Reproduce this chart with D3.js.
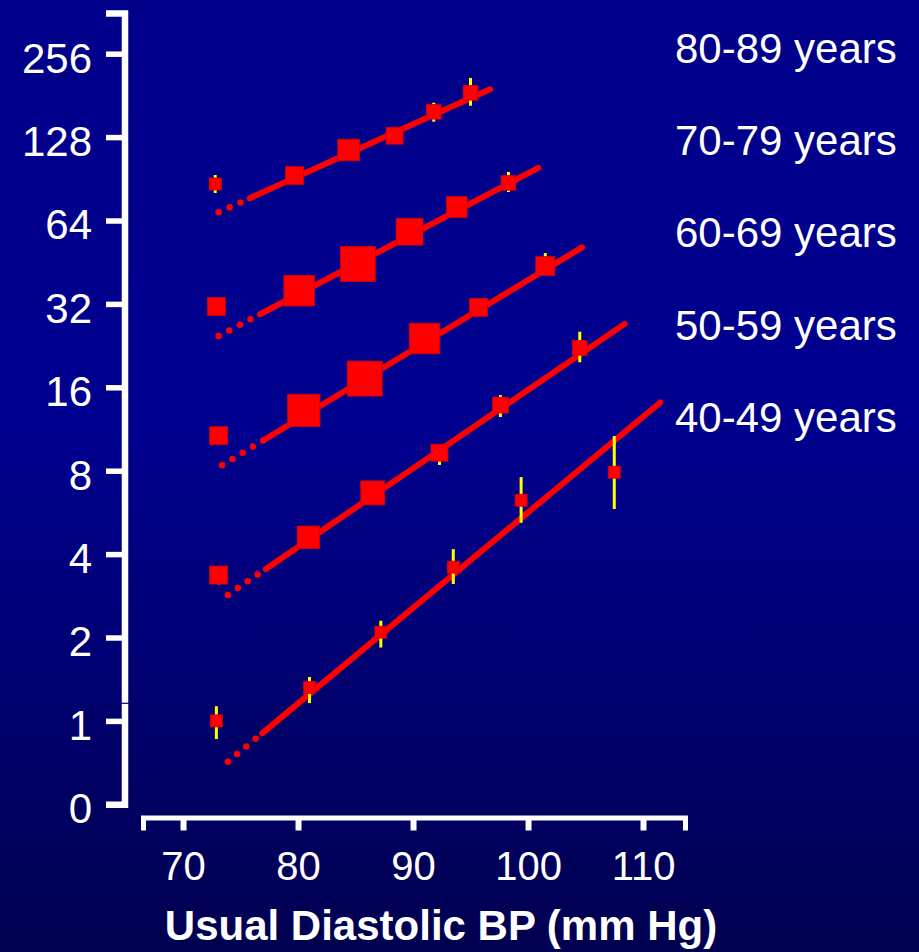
<!DOCTYPE html>
<html>
<head>
<meta charset="utf-8">
<script src="https://cdnjs.cloudflare.com/ajax/libs/d3/7.8.5/d3.min.js"></script>
<style>
  html, body { margin: 0; padding: 0; background: #000052; }
  svg { display: block; }
  text { font-family: Arial, "Liberation Sans", sans-serif; fill: #fff; }
</style>
</head>
<body>
<svg id="chart" width="919" height="952"></svg>
<script>
var ageGroups = ['80-89 years', '70-79 years', '60-69 years', '50-59 years', '40-49 years'];

// usual diastolic BP (mm Hg) of each category, one row per age group
var usualDBP = [
  [72.8, 79.7, 84.4, 88.4, 91.8, 95.0],
  [72.9, 80.1, 85.2, 89.7, 93.8, 98.3],
  [73.1, 80.5, 85.8, 91.0, 95.7, 101.5],
  [73.1, 80.9, 86.5, 92.3, 97.6, 104.5],
  [72.9, 81.0, 87.2, 93.5, 99.4, 107.5]
];
var strokeRisk = [
  [86.7, 92.9, 115, 129.5, 158, 185],
  [31.3, 35.7, 44.6, 58.3, 71.6, 87.5],
  [10.7, 13.2, 17.2, 24.0, 31.1, 43.8],
  [3.36, 4.60, 6.65, 9.29, 13.8, 22.2],
  [1.0, 1.32, 2.09, 3.59, 6.26, 7.90]
];
var ciLow = [
  [80.4, null, 109.4, null, 145.5, 166.1],
  [null, null, null, null, null, 81.1],
  [null, null, null, null, null, 41.5],
  [3.11, null, null, 8.39, 12.5, 19.7],
  [0.86, 1.16, 1.84, 3.12, 5.19, 5.82]
];
var ciHigh = [
  [93.4, null, 118.9, null, 170.3, 209.3],
  [null, null, null, null, null, 95.8],
  [null, null, null, null, null, 48.8],
  [3.62, null, null, 9.9, 15.0, 25.4],
  [1.13, 1.44, 2.30, 4.17, 7.59, 10.67]
];
// amount of information per category (drives square area)
var weights = [
  [4, 9, 13, 8, 6, 6],
  [9, 26, 34, 20, 12, 6],
  [9, 29, 34, 26, 9, 10],
  [9, 14, 16, 8, 7, 6],
  [4, 4, 4, 4, 4, 4]
];
// fitted trend: dotted from, solid from, to (mm Hg) and risk at both ends
var fitBP = [
  [73.1, 75.8, 96.7],
  [73.1, 76.7, 100.9],
  [73.4, 77.0, 104.7],
  [73.9, 77.2, 108.4],
  [73.9, 76.9, 111.5]
];
var fitRisk = [
  [68.5, 190.4],
  [24.5, 99.1],
  [8.37, 51.2],
  [2.85, 27.1],
  [0.712, 14.1]
];
var yTicks = [0.5, 1, 2, 4, 8, 16, 32, 64, 128, 256];
var xTicks = [70, 80, 90, 100, 110];

var svg = d3.select('#chart')
  , W = 919
  , H = 952
  , x = d3.scaleLinear().domain([66.52, 113.65]).range([143, 685])
  , y = d3.scaleLog().base(2).domain([0.5, 256]).range([804.3, 53.7])
  , yAxisScale = y.copy().domain([0.5, y.invert(13)]).range([804.3, 13])
  , size = d3.scaleSqrt().domain([0, 36]).range([0, 36])
  , defs = svg.append('defs')
  , grad
  , _riskAt
  , _styleAxis
;

grad = defs.append('linearGradient')
  .attr('id', 'bg').attr('x1', 0).attr('y1', 0).attr('x2', 0).attr('y2', 1);
grad.append('stop').attr('offset', 0).attr('stop-color', '#00008a');
grad.append('stop').attr('offset', 0.45).attr('stop-color', '#00008f');
grad.append('stop').attr('offset', 1).attr('stop-color', '#000050');

svg.append('rect').attr('width', W).attr('height', H).attr('fill', 'url(#bg)');

// log-linear interpolation along a fitted line
_riskAt = function (g, bp) {
  var b = fitBP[g], r = fitRisk[g]
    , t = (bp - b[0]) / (b[2] - b[0]);
  return Math.exp(Math.log(r[0]) + t * (Math.log(r[1]) - Math.log(r[0])));
};

_styleAxis = function (g, fontSize, width, tickWidth) {
  g.attr('font-size', fontSize).attr('font-family', 'Arial, "Liberation Sans", sans-serif');
  g.select('.domain').attr('stroke', '#fff').attr('stroke-width', width).attr('fill', 'none');
  g.selectAll('.tick line').attr('stroke', '#fff').attr('stroke-width', tickWidth);
  g.selectAll('.tick text').attr('fill', '#fff');
};

// axes
var yAxis = svg.append('g')
  .attr('transform', 'translate(124.5,0)')
  .call(d3.axisLeft(yAxisScale)
    .tickValues(yTicks)
    .tickFormat(function (d) { return d < 1 ? '0' : d; })
    .tickSizeInner(18.5).tickSizeOuter(18.5).tickPadding(14));
_styleAxis(yAxis, 42, 6.5, 5.5);
yAxis.selectAll('.tick text').attr('dy', '0.44em');

svg.append('line')
  .attr('x1', 120).attr('x2', 129).attr('y1', 703.3).attr('y2', 703.3)
  .attr('stroke', '#000070').attr('stroke-width', 1.2);

var xAxis = svg.append('g')
  .attr('transform', 'translate(0,817.5)')
  .call(d3.axisBottom(x).tickValues(xTicks).tickSizeInner(13).tickSizeOuter(13));
_styleAxis(xAxis, 40, 5, 6);
xAxis.selectAll('.tick text').attr('y', 62.5).attr('dy', 0);

svg.append('text')
  .attr('x', 441).attr('y', 940)
  .attr('text-anchor', 'middle')
  .attr('font-size', 42).attr('font-weight', 'bold')
  .text('Usual Diastolic BP (mm Hg)');

// one group per age band
ageGroups.forEach(function (label, g) {
  var grp = svg.append('g').attr('class', 'age-group')
    , b = fitBP[g]
    , pts = usualDBP[g].map(function (bp, i) {
        return { bp: bp, risk: strokeRisk[g][i], lo: ciLow[g][i], hi: ciHigh[g][i], w: weights[g][i] };
      });

  grp.append('line')
    .attr('x1', x(b[0])).attr('y1', y(_riskAt(g, b[0])))
    .attr('x2', x(b[1])).attr('y2', y(_riskAt(g, b[1])))
    .attr('stroke', '#ff0000').attr('stroke-width', 6.5)
    .attr('stroke-linecap', 'round').attr('stroke-dasharray', '0 12');

  grp.append('line')
    .attr('x1', x(b[1])).attr('y1', y(_riskAt(g, b[1])))
    .attr('x2', x(b[2])).attr('y2', y(_riskAt(g, b[2])))
    .attr('stroke', '#ff0000').attr('stroke-width', 6)
    .attr('stroke-linecap', 'round');

  grp.selectAll('line.ci')
    .data(pts.filter(function (d) { return d.lo != null; }))
    .enter().append('line')
      .attr('class', 'ci')
      .attr('x1', function (d) { return x(d.bp); })
      .attr('x2', function (d) { return x(d.bp); })
      .attr('y1', function (d) { return y(d.lo); })
      .attr('y2', function (d) { return y(d.hi); })
      .attr('stroke', '#ffff00').attr('stroke-width', 3);

  grp.selectAll('rect')
    .data(pts)
    .enter().append('rect')
      .attr('x', function (d) { return x(d.bp) - size(d.w) / 2; })
      .attr('y', function (d) { return y(d.risk) - size(d.w) / 2; })
      .attr('width', function (d) { return size(d.w); })
      .attr('height', function (d) { return size(d.w); })
      .attr('fill', '#ff0000')
      .attr('stroke', '#d0000a').attr('stroke-width', 0.8);

  svg.append('text')
    .attr('x', 675).attr('y', 62.7 + g * 92.3)
    .attr('font-size', 42)
    .text(label);
});
</script>
</body>
</html>
